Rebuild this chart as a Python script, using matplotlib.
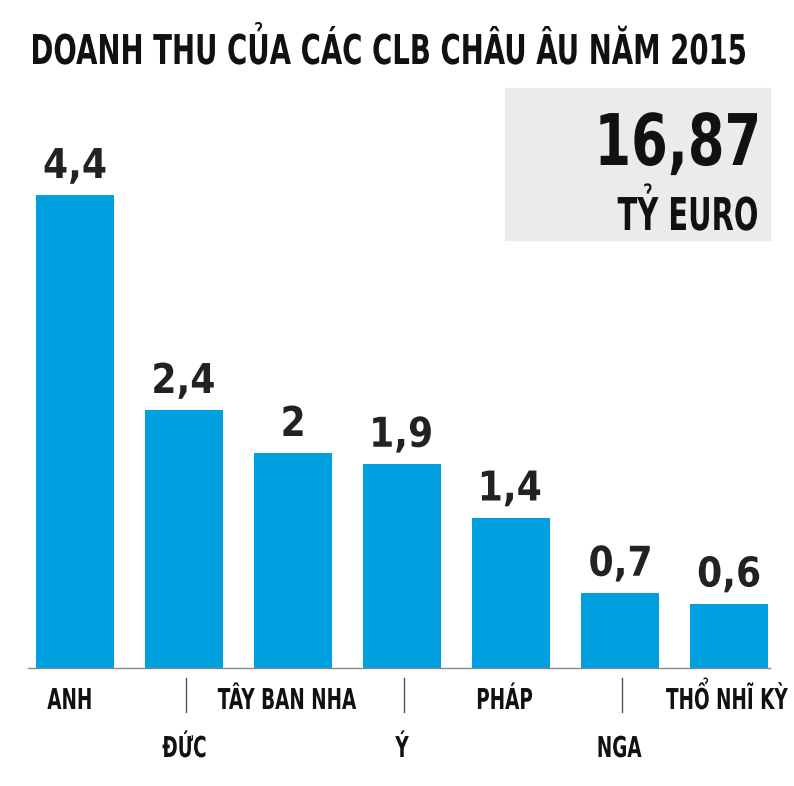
import matplotlib.pyplot as plt
from matplotlib.patches import Rectangle, PathPatch
from matplotlib.textpath import TextPath
from matplotlib.font_manager import FontProperties
from matplotlib.transforms import Affine2D

countries = ['ANH', 'ĐỨC', 'TÂY BAN NHA', 'Ý', 'PHÁP', 'NGA', 'THỔ NHĨ KỲ']
revenue = [4.4, 2.4, 2.0, 1.9, 1.4, 0.7, 0.6]
value_labels = ['4,4', '2,4', '2', '1,9', '1,4', '0,7', '0,6']
title = 'DOANH THU CỦA CÁC CLB CHÂU ÂU NĂM 2015'
total_text = '16,87'
unit_text = 'TỶ EURO'

W, H = 794, 786
SX = 0.64
prop = FontProperties(family='DejaVu Sans', weight='bold')
fig = plt.figure(figsize=(W / 100, H / 100), dpi=100)
px = Affine2D().scale(1, -1).translate(0, H)  # pixel coords from top-left -> display


def ctext(s, x, y_base, cap, ha='center', color='#111111', width=None, sx=SX):
    # condensed text drawn as a path, y_base = baseline in px from top
    size = cap / 0.73
    tp = TextPath((0, 0), s, size=size, prop=prop)
    ext = tp.get_extents()
    if width is not None:
        sx = width / ext.width
    w = ext.width * sx
    x0 = {'left': x, 'center': x - w / 2, 'right': x - w}[ha]
    tr = Affine2D().translate(-ext.x0, 0).scale(sx, -1).translate(x0, y_base) + px
    fig.add_artist(PathPatch(tp, transform=tr, color=color, lw=0, zorder=5))


ax = fig.add_axes([0, 1 - 668 / H, 1, (668 - 100) / H])
step = 109
ax.set_xlim(-75 / step, (W - 75) / step)
ax.set_ylim(0, 568 / 107.5)
ax.axis('off')

x = list(range(len(countries)))
bars = ax.bar(x, revenue, width=78 / step, color='#009fe0')
fig.canvas.draw()
for i, (b, lab) in enumerate(zip(bars, value_labels)):
    top_px = H - ax.transData.transform((0, b.get_height()))[1]
    ctext(lab, 75 + step * i, top_px - 17, 30, color='#222222', sx=0.88)

fig.add_artist(plt.Line2D([28 / W, 770 / W], [1 - 668 / H] * 2, color='#888888', lw=1))
for i, c in enumerate(countries):
    cx = 75 + step * i
    if i % 2 == 0:
        ctext(c, cx - 6 if i < 6 else cx - 2, 709, 21)
    else:
        ctext(c, cx, 757, 21)
        fig.add_artist(plt.Line2D([(cx + 2) / W] * 2, [1 - 678 / H, 1 - 712 / H],
                                  color='#555555', lw=1))

ctext(title, 389, 64, 30, width=712)
fig.add_artist(Rectangle((505 / W, 1 - 240 / H), 265 / W, 152 / H,
                         transform=fig.transFigure, color='#ebebeb', zorder=0))
ctext(total_text, 757, 165, 52, ha='right', sx=0.74)
ctext(unit_text, 757, 230, 33, ha='right')

fig.savefig('out.png', dpi=100, facecolor='white')
